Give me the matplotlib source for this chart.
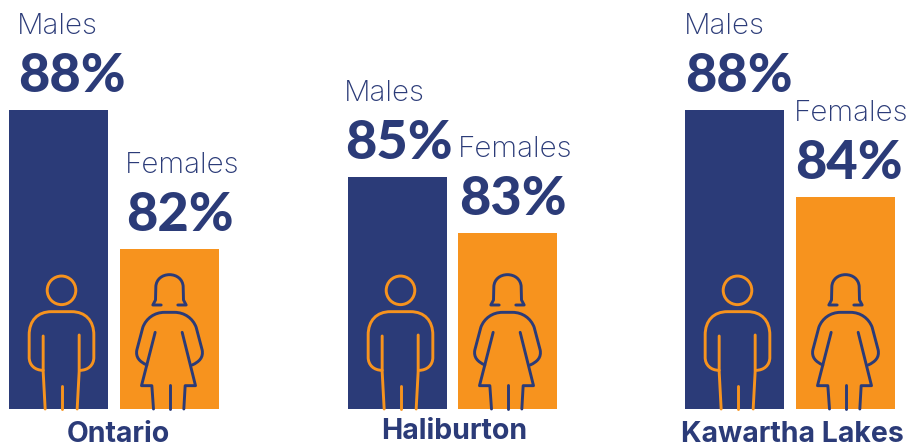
import matplotlib
matplotlib.use("Agg")
import matplotlib.pyplot as plt
from matplotlib.path import Path
from matplotlib.patches import PathPatch, Circle

# ---- data ----
regions = ["Ontario", "Haliburton", "Kawartha Lakes"]
male_values = [88.0, 85.1, 88.0]
female_values = [82.0, 82.7, 84.25]
male_labels = ["88%", "85%", "88%"]
female_labels = ["82%", "83%", "84%"]

# ---- style / layout ----
NAVY = "#2B3B78"
ORANGE = "#F7931E"
W, H = 911, 447
BASE_PX = 409
male_x = [9, 348, 685]
female_x = [120, 458, 796]
bar_w = 99
region_pos = [(118, 442), (454, 439), (792, 442)]
male_text_dx = [9, -3, 0]
female_text_dx = [6, 1, -1]
name_dx = -1

fig = plt.figure(figsize=(W / 100, H / 100), dpi=100)
ax = fig.add_axes([0, (H - BASE_PX) / H, 1, BASE_PX / H])
ax.set_xlim(0, W)
ax.set_ylim(75.1, 75.1 + BASE_PX / 23.17)
ax.axis("off")

ov = fig.add_axes([0, 0, 1, 1], facecolor="none")
ov.set_xlim(0, W)
ov.set_ylim(H, 0)
ov.axis("off")

ax.bar(male_x, male_values, width=bar_w, align="edge", color=NAVY, bottom=0)
ax.bar(female_x, female_values, width=bar_w, align="edge", color=ORANGE, bottom=0)


def scaled(points, cx, top):
    # icon outlines are traced on a 3x grid relative to icon centre
    return [(cx + x / 3, top + y / 3) for x, y in points]


M, L, C = Path.MOVETO, Path.LINETO, Path.CURVE4


def stroke(ptcodes, cx, top, color):
    pts = [p for p, _ in ptcodes]
    codes = [c for _, c in ptcodes]
    ov.add_patch(PathPatch(Path(scaled(pts, cx, top), codes), fill=False, ec=color,
                           lw=2.1, capstyle="round", joinstyle="round", clip_on=True))


def male_icon(cx, color):
    top = 250
    ov.add_patch(Circle((cx, top + 121 / 3), 14.3, fill=False, ec=color, lw=2.1))
    stroke([((-55, 361), M), ((-80, 361), C), ((-97, 345), C), ((-97, 322), C),
            ((-97, 255), L), ((-97, 212), C), ((-72, 185), C), ((-30, 185), C),
            ((30, 185), L), ((72, 185), C), ((97, 212), C), ((97, 255), C),
            ((97, 322), L), ((97, 345), C), ((80, 361), C), ((55, 361), C)], cx, top, color)
    stroke([((-55, 258), M), ((-55, 365), L), ((-49, 477), L)], cx, top, color)
    stroke([((53, 255), M), ((53, 365), L), ((47, 477), L)], cx, top, color)
    stroke([((0, 408), M), ((0, 477), L)], cx, top, color)


def female_icon(cx, color):
    top = 250
    stroke([((-25, 165), M), ((-50, 165), L), ((-42, 150), L), ((-41, 110), L),
            ((-40, 88), C), ((-22, 74), C), ((0, 74), C),
            ((22, 74), C), ((40, 88), C), ((41, 110), C),
            ((42, 150), L), ((50, 165), L), ((25, 165), L)], cx, top, color)
    stroke([((-68, 345), M), ((-90, 335), C), ((-102, 322), C), ((-98, 300), C),
            ((-80, 232), L), ((-70, 205), C), ((-45, 187), C), ((-15, 187), C),
            ((15, 187), L), ((45, 187), C), ((70, 205), C), ((80, 232), C),
            ((98, 300), L), ((102, 322), C), ((90, 335), C), ((68, 345), C)], cx, top, color)
    stroke([((-43, 247), M), ((-84, 407), L), ((-53, 407), L), ((-48, 477), L)], cx, top, color)
    stroke([((38, 247), M), ((78, 407), L), ((47, 407), L), ((43, 477), L)], cx, top, color)
    stroke([((0, 405), M), ((0, 477), L)], cx, top, color)


def bar_text(x, value, name, label, dx):
    ax.annotate(name, (x, value), xytext=(dx + name_dx, 76), textcoords="offset pixels", color=NAVY,
                fontsize=21.3, family="Inter", fontweight="light", ha="left", va="baseline")
    ax.annotate(label, (x, value), xytext=(dx, 18), textcoords="offset pixels", color=NAVY,
                fontsize=39, family="Lato", fontweight="black", ha="left", va="baseline")


for i, region in enumerate(regions):
    male_icon(male_x[i] + bar_w / 2 + 3, ORANGE)
    female_icon(female_x[i] + bar_w / 2, NAVY)
    bar_text(male_x[i], male_values[i], "Males", male_labels[i], male_text_dx[i])
    bar_text(female_x[i], female_values[i], "Females", female_labels[i], female_text_dx[i])
    ov.text(region_pos[i][0], region_pos[i][1], region, color=NAVY, fontsize=20.5, family="Inter",
            fontweight="bold", ha="center", va="baseline")

fig.savefig("out.png", dpi=100, facecolor="white")
